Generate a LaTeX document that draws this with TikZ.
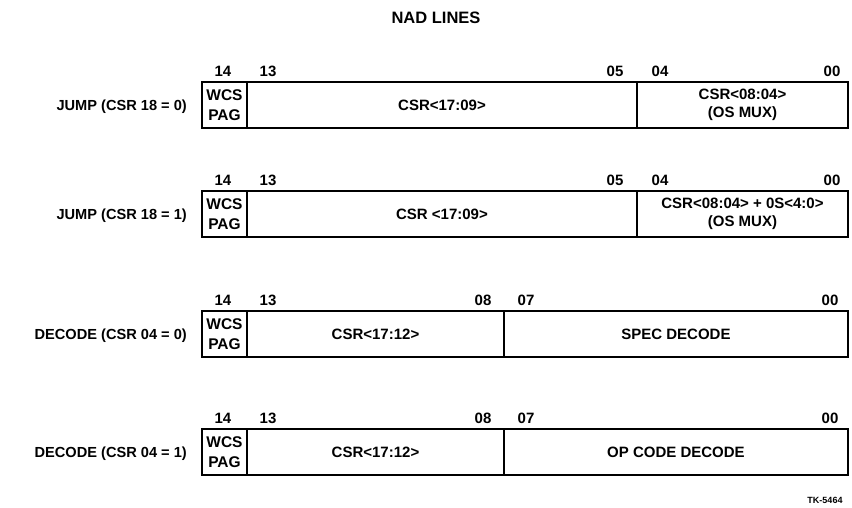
\documentclass[tikz,border=0pt]{standalone}
\usepackage{fontspec}
\setmainfont{Liberation Sans}
\begin{document}
\begin{tikzpicture}[x=1pt,y=-1pt,
  field/.style={draw, line width=2.2pt, inner sep=0pt, minimum height=46pt, align=center, font=\fontsize{15}{17.5}\selectfont\bfseries},
  wcs/.style={field, minimum width=45pt, font=\fontsize{15.5}{20}\selectfont\bfseries},
  bitnum/.style={inner sep=0pt, font=\fontsize{15}{17}\selectfont\bfseries},
  rowlabel/.style={inner sep=0pt, anchor=east, font=\fontsize{14.6}{17}\selectfont\bfseries},
  title/.style={inner sep=0pt, font=\fontsize{16.5}{18}\selectfont\bfseries}]
\useasboundingbox (0,0) rectangle (852,508);
\node[title] (t) at (436,18) {NAD LINES};
% Row 1
\node[rowlabel] (l1) at (187,107) {JUMP (CSR 18 = 0)};
\node[wcs] (w1) at (224.5,105) {WCS\\PAG};
\node[field, minimum width=390pt] (m1) at (442,105) {CSR<17:09>};
\node[field, minimum width=211pt] (r1) at (742.5,105) {CSR<08:04>\\(OS MUX)};
\node[bitnum] (n1a) at (223,71.5) {14};
\node[bitnum] (n1b) at (268,71.5) {13};
\node[bitnum] (n1c) at (615,71.5) {05};
\node[bitnum] (n1d) at (660,71.5) {04};
\node[bitnum] (n1e) at (832,71.5) {00};
% Row 2
\node[rowlabel] (l2) at (187,216) {JUMP (CSR 18 = 1)};
\node[wcs] (w2) at (224.5,214) {WCS\\PAG};
\node[field, minimum width=390pt] (m2) at (442,214) {CSR <17:09>};
\node[field, minimum width=211pt] (r2) at (742.5,214) {CSR<08:04> + 0S<4:0>\\(OS MUX)};
\node[bitnum] (n2a) at (223,180.5) {14};
\node[bitnum] (n2b) at (268,180.5) {13};
\node[bitnum] (n2c) at (615,180.5) {05};
\node[bitnum] (n2d) at (660,180.5) {04};
\node[bitnum] (n2e) at (832,180.5) {00};
% Row 3
\node[rowlabel] (l3) at (187,336) {DECODE (CSR 04 = 0)};
\node[wcs] (w3) at (224.5,334) {WCS\\PAG};
\node[field, minimum width=257pt] (m3) at (375.5,334) {CSR<17:12>};
\node[field, minimum width=344pt] (r3) at (676,334) {SPEC DECODE};
\node[bitnum] (n3a) at (223,300.5) {14};
\node[bitnum] (n3b) at (268,300.5) {13};
\node[bitnum] (n3c) at (483,300.5) {08};
\node[bitnum] (n3d) at (526,300.5) {07};
\node[bitnum] (n3e) at (830,300.5) {00};
% Row 4
\node[rowlabel] (l4) at (187,454) {DECODE (CSR 04 = 1)};
\node[wcs] (w4) at (224.5,452) {WCS\\PAG};
\node[field, minimum width=257pt] (m4) at (375.5,452) {CSR<17:12>};
\node[field, minimum width=344pt] (r4) at (676,452) {OP CODE DECODE};
\node[bitnum] (n4a) at (223,418.5) {14};
\node[bitnum] (n4b) at (268,418.5) {13};
\node[bitnum] (n4c) at (483,418.5) {08};
\node[bitnum] (n4d) at (526,418.5) {07};
\node[bitnum] (n4e) at (830,418.5) {00};
\node[inner sep=0pt, font=\fontsize{9}{10}\selectfont\bfseries] (tk) at (825,500) {TK-5464};
\end{tikzpicture}
\end{document}
